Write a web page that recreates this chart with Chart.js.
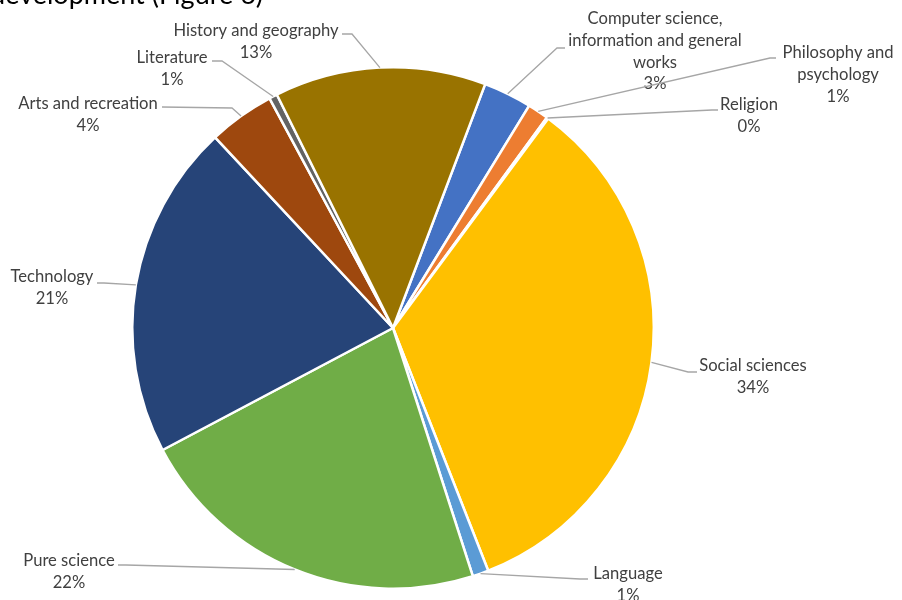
<!DOCTYPE html>
<html>
<head>
<meta charset="utf-8">
<script src="https://cdn.jsdelivr.net/npm/chart.js@4"></script>
<style>
html,body{margin:0;padding:0;background:#fff;}
#c{display:block;}
</style>
</head>
<body>
<canvas id="c" width="902" height="600"></canvas>
<script>
// Data (Dewey classes, share of items, %)
const categories = [
  "Computer science, information and general works",
  "Philosophy and psychology",
  "Religion",
  "Social sciences",
  "Language",
  "Pure science",
  "Technology",
  "Arts and recreation",
  "Literature",
  "History and geography"
];
const shares = [3.0, 1.3, 0.1, 33.9, 1.0, 22.2, 20.8, 4.1, 0.5, 13.1];
const colors = ["#4472C4","#ED7D31","#A5A5A5","#FFC000","#5B9BD5","#70AD47","#264478","#9E480E","#636363","#997300"];
// label text lines (name part) per slice
const labelLines = [
  ["Computer science,","information and general","works"],
  ["Philosophy and","psychology"],
  ["Religion"],
  ["Social sciences"],
  ["Language"],
  ["Pure science"],
  ["Technology"],
  ["Arts and recreation"],
  ["Literature"],
  ["History and geography"]
];
// label layout: centre x, first line middle y, leader elbow, leader end
const labelLayout = [
  {cx:655, y:19, elbow:[557,48], end:[565,48]},
  {cx:838, y:53, elbow:[770,58], end:[776,58]},
  {cx:749, y:105, elbow:[712,110], end:[718,110]},
  {cx:753, y:366, elbow:[688,372], end:[697,372]},
  {cx:628, y:574, elbow:[580,579], end:[588,579]},
  {cx:69, y:561, elbow:[126,565], end:[118,565]},
  {cx:52, y:277, elbow:[104,283], end:[97,283]},
  {cx:88, y:104, elbow:[232,108], end:[162,107]},
  {cx:172, y:58, elbow:[222,61], end:[212,61]},
  {cx:256, y:31, elbow:[352,34], end:[342,34]}
];
const lineH = 21.7;
const firstSliceAngle = 20.7;

const labelPlugin = {
  id: 'outLabels',
  afterDatasetsDraw(chart) {
    const ctx = chart.ctx;
    const meta = chart.getDatasetMeta(0);
    ctx.save();
    // partially visible heading above the chart
    ctx.fillStyle = '#000';
    ctx.font = '27px Lato, "Open Sans", sans-serif';
    ctx.textAlign = 'right';
    ctx.textBaseline = 'alphabetic';
    ctx.fillText('development (Figure 6)', 263, 4);

    ctx.font = '16.6px Lato, "Open Sans", sans-serif';
    ctx.textAlign = 'center';
    ctx.textBaseline = 'middle';
    meta.data.forEach((arc, i) => {
      const p = arc.getProps(['x','y','startAngle','endAngle','outerRadius'], true);
      const mid = (p.startAngle + p.endAngle) / 2;
      const ax = p.x + Math.cos(mid) * p.outerRadius;
      const ay = p.y + Math.sin(mid) * p.outerRadius;
      const L = labelLayout[i];
      ctx.strokeStyle = '#A6A6A6';
      ctx.lineWidth = 1.3;
      ctx.beginPath();
      ctx.moveTo(ax, ay);
      ctx.lineTo(L.elbow[0], L.elbow[1]);
      ctx.lineTo(L.end[0], L.end[1]);
      ctx.stroke();
      ctx.fillStyle = '#404040';
      const lines = labelLines[i].concat([Math.round(shares[i]) + '%']);
      lines.forEach((t, k) => ctx.fillText(t, L.cx, L.y + k * lineH));
    });
    ctx.restore();
  }
};

new Chart(document.getElementById('c'), {
  type: 'pie',
  data: {
    labels: categories,
    datasets: [{
      data: shares,
      backgroundColor: colors,
      borderColor: '#ffffff',
      borderWidth: 2.5
    }]
  },
  options: {
    responsive: false,
    animation: false,
    rotation: firstSliceAngle,
    layout: { padding: { left: 131, right: 247, top: 66, bottom: 10 } },
    plugins: { legend: { display: false }, tooltip: { enabled: false } }
  },
  plugins: [labelPlugin]
});
</script>
</body>
</html>
